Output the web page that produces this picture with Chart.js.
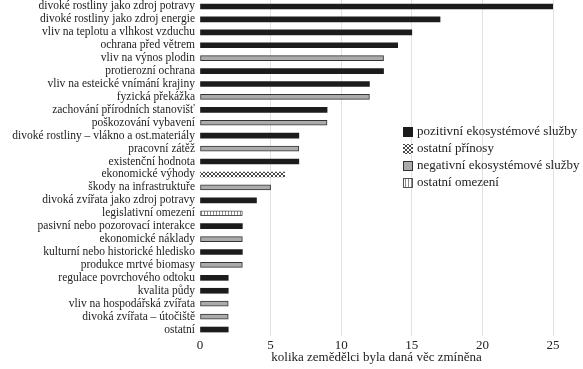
<!DOCTYPE html>
<html lang="cs">
<head>
	<meta charset="UTF-8"/>
	<title>Zmínky zemědělců</title>
	<script src="https://cdn.jsdelivr.net/npm/chart.js"></script>
	<style>
		body {
			margin: 0;
			background: #fff;
		}
		.wrap {
			position: relative;
			width: 583px;
			height: 369px;
		}
	</style>
</head>
<body>
<div class="wrap">
	<canvas id="myChart"></canvas>
</div>

<script>
	const categories = [
		"divoké rostliny jako zdroj potravy",
		"divoké rostliny jako zdroj energie",
		"vliv na teplotu a vlhkost vzduchu",
		"ochrana před větrem",
		"vliv na výnos plodin",
		"protierozní ochrana",
		"vliv na esteické vnímání krajiny",
		"fyzická překážka",
		"zachování přírodních stanovišť",
		"poškozování vybavení",
		"divoké rostliny – vlákno a ost.materiály",
		"pracovní zátěž",
		"existenční hodnota",
		"ekonomické výhody",
		"škody na infrastruktuře",
		"divoká zvířata jako zdroj potravy",
		"legislativní omezení",
		"pasivní nebo pozorovací interakce",
		"ekonomické náklady",
		"kulturní nebo historické hledisko",
		"produkce mrtvé biomasy",
		"regulace povrchového odtoku",
		"kvalita půdy",
		"vliv na hospodářská zvířata",
		"divoká zvířata – útočiště",
		"ostatní"
	];

	const mentions = [25, 17, 15, 14, 13, 13, 12, 12, 9, 9, 7, 7, 7, 6, 5, 4, 3, 3, 3, 3, 3, 2, 2, 2, 2, 2];

	// 0 pozitivní, 1 ostatní přínosy, 2 negativní, 3 ostatní omezení
	const groupOf = [0, 0, 0, 0, 2, 0, 0, 2, 0, 2, 0, 2, 0, 1, 2, 0, 3, 0, 2, 0, 2, 0, 0, 2, 2, 0];

	const seriesLabels = [
		"pozitivní ekosystémové služby",
		"ostatní přínosy",
		"negativní ekosystémové služby",
		"ostatní omezení"
	];

	const xTicks = [0, 5, 10, 15, 20, 25];

	function makePattern(w, h, draw) {
		const c = document.createElement("canvas");
		c.width = w;
		c.height = h;
		const g = c.getContext("2d");
		draw(g);
		return g.createPattern(c, "repeat");
	}

	const crossHatch = makePattern(4, 4, g => {
		g.fillStyle = "#fff";
		g.fillRect(0, 0, 4, 4);
		g.fillStyle = "#4a4a4a";
		for (let i = 0; i < 4; i++) {
			g.fillRect(i, i, 1, 1);
			g.fillRect(3 - i, i, 1, 1);
		}
	});

	const vStripes = makePattern(3, 1, g => {
		g.fillStyle = "#fff";
		g.fillRect(0, 0, 3, 1);
		g.fillStyle = "#8a8a8a";
		g.fillRect(0, 0, 1, 1);
	});

	const styles = [
		{ bg: "#1c1c1c", border: "#1c1c1c", bw: 0 },
		{ bg: crossHatch, border: "#666", bw: 0 },
		{ bg: "#ababab", border: "#333", bw: 1 },
		{ bg: vStripes, border: "#555", bw: 1 }
	];

	const datasets = seriesLabels.map((label, s) => ({
		label: label,
		data: mentions.map((v, i) => (groupOf[i] === s ? v : null)),
		backgroundColor: styles[s].bg,
		borderColor: styles[s].border,
		borderWidth: styles[s].bw,
		borderSkipped: false,
		barThickness: 5,
		grouped: false
	}));

	const innerLegend = {
		id: "innerLegend",
		afterDraw(chart) {
			const ctx = chart.ctx;
			ctx.save();
			ctx.font = "13px 'Liberation Serif'";
			ctx.textBaseline = "middle";
			chart.data.datasets.forEach((ds, i) => {
				const y = 132 + i * 17;
				ctx.fillStyle = ds.backgroundColor;
				ctx.fillRect(403, y - 5, 10, 10);
				if (ds.borderWidth) {
					ctx.strokeStyle = ds.borderColor;
					ctx.lineWidth = 1;
					ctx.strokeRect(403.5, y - 4.5, 9, 9);
				}
				ctx.fillStyle = "#222";
				ctx.fillText(ds.label, 417, y);
			});
			ctx.restore();
		}
	};

	const ctx = document.getElementById("myChart").getContext("2d");
	const myChart = new Chart(ctx, {
		type: "bar",
		data: {
			labels: categories,
			datasets: datasets
		},
		plugins: [innerLegend],
		options: {
			indexAxis: "y",
			responsive: true,
			maintainAspectRatio: false,
			animation: false,
			layout: { padding: { top: 0, right: 30, bottom: 0, left: 0 } },
			plugins: {
				legend: { display: false },
				tooltip: { enabled: false }
			},
			scales: {
				x: {
					min: 0,
					max: 25,
					afterBuildTicks: scale => {
						scale.ticks = xTicks.map(v => ({ value: v }));
					},
					afterFit: scale => {
						scale.height = 33;
					},
					border: { display: false },
					grid: {
						drawTicks: false,
						color: c => (c.tick && c.tick.value === 0 ? "rgba(0,0,0,0)" : "#e2e2e2")
					},
					ticks: {
						padding: 2,
						color: "#222",
						font: { family: "'Liberation Serif'", size: 13 }
					},
					title: {
						display: true,
						text: "kolika zemědělci byla daná věc zmíněna",
						color: "#222",
						padding: { top: 0, bottom: 4 },
						font: { family: "'Liberation Serif'", size: 13 }
					}
				},
				y: {
					afterFit: scale => {
						scale.width = 200;
						scale.paddingTop = 0;
						scale.paddingBottom = 0;
					},
					border: { display: false },
					grid: { display: false, drawTicks: false },
					ticks: {
						autoSkip: false,
						padding: 5,
						color: "#222",
						font: { family: "'Liberation Serif'", size: 11.5 }
					}
				}
			}
		}
	});
</script>
</body>
</html>
